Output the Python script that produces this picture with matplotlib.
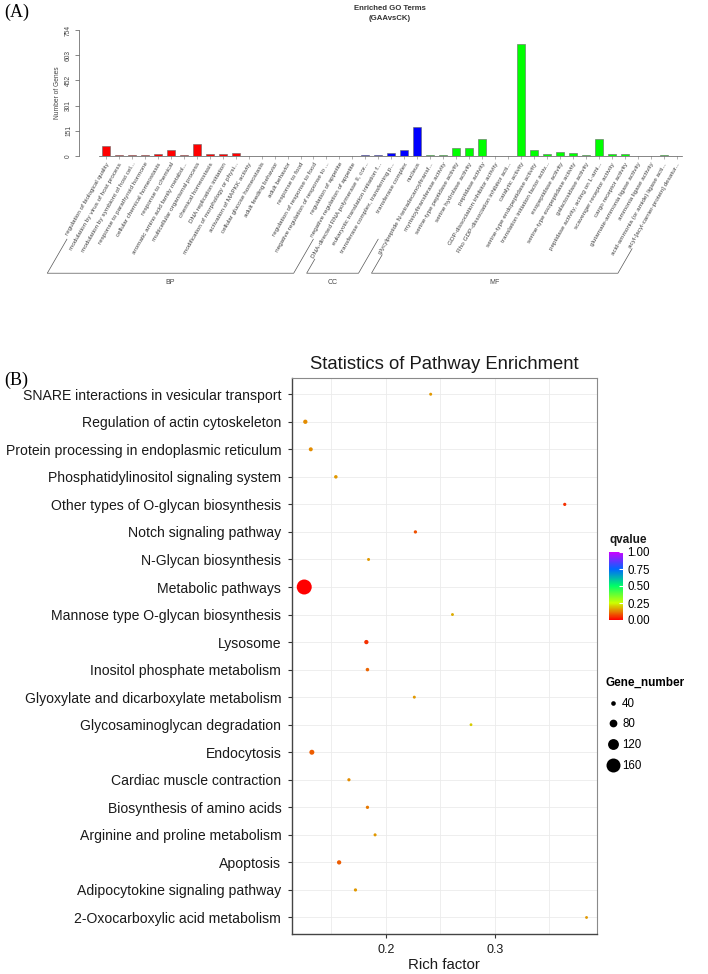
import matplotlib
matplotlib.use("Agg")
import matplotlib.pyplot as plt
import numpy as np
from matplotlib.colors import LinearSegmentedColormap
from matplotlib.lines import Line2D
from matplotlib.transforms import IdentityTransform

plt.rcParams['font.family'] = ['Liberation Sans', 'DejaVu Sans']

# ---------------- panel A: enriched GO terms ----------------
bp_terms = ['regulation of biological quality', 'modulation by virus of host process',
            'modulation by symbiont of host cel...', 'response to parathyroid hormone',
            'cellular chemical homeostasis', 'response to chemical',
            'aromatic amino acid family metabol...', 'multicellular organismal process',
            'chemical homeostasis', 'DNA replication initiation',
            'modification of morphology or physi...', 'activation of MAPKK activity',
            'cellular glucose homeostasis', 'adult feeding behavior', 'adult behavior',
            'response to food', 'regulation of response to food',
            'negative regulation of response to ...', 'regulation of appetite',
            'negative regulation of appetite']
bp_genes = [62, 5, 5, 3, 13, 33, 4, 72, 12, 12, 17, 2, 2, 2, 2, 2, 2, 2, 2, 2]

cc_terms = ['DNA-directed RNA polymerase II, cor...', 'eukaryotic translation initiation f...',
            'transferase complex, transferring p...', 'transferase complex', 'nucleus']
cc_genes = [5, 8, 18, 36, 176]

mf_terms = ['glycylpeptide N-tetradecanoyltransf...', 'myristoyltransferase activity',
            'serine-type peptidase activity', 'serine hydrolase activity', 'peptidase activity',
            'GDP-dissociation inhibitor activity', 'Rho GDP-dissociation inhibitor acti...',
            'catalytic activity', 'serine-type endopeptidase activity',
            'translation initiation factor activ...', 'exopeptidase activity',
            'serine-type exopeptidase activity', 'galactosidase activity',
            'peptidase activity, acting on L-ami...', 'scavenger receptor activity',
            'cargo receptor activity', 'glutamate-ammonia ligase activity',
            'ammonia ligase activity', 'acid-ammonia (or amide) ligase acti...',
            'acyl-[acyl-carrier-protein] desatur...']
mf_genes = [4, 4, 46, 46, 103, 2, 2, 668, 38, 14, 26, 16, 8, 100, 14, 14, 2, 2, 3, 1]

go_yticks = [0, 151, 301, 452, 603, 754]

# ---------------- panel B: KEGG pathway enrichment ----------------
pathways = ['SNARE interactions in vesicular transport', 'Regulation of actin cytoskeleton',
            'Protein processing in endoplasmic reticulum', 'Phosphatidylinositol signaling system',
            'Other types of O-glycan biosynthesis', 'Notch signaling pathway',
            'N-Glycan biosynthesis', 'Metabolic pathways', 'Mannose type O-glycan biosynthesis',
            'Lysosome', 'Inositol phosphate metabolism', 'Glyoxylate and dicarboxylate metabolism',
            'Glycosaminoglycan degradation', 'Endocytosis', 'Cardiac muscle contraction',
            'Biosynthesis of amino acids', 'Arginine and proline metabolism', 'Apoptosis',
            'Adipocytokine signaling pathway', '2-Oxocarboxylic acid metabolism']
rich_factor = [0.241, 0.126, 0.131, 0.154, 0.364, 0.227, 0.184, 0.125, 0.261, 0.182,
               0.183, 0.226, 0.278, 0.132, 0.166, 0.183, 0.190, 0.157, 0.172, 0.384]
gene_number = [19, 36, 32, 26, 22, 23, 19, 173, 18, 36, 26, 19, 17, 45, 22, 23, 20, 36, 22, 17]
qvalue = [0.15, 0.14, 0.14, 0.15, 0.05, 0.08, 0.15, 0.0, 0.17, 0.05,
          0.10, 0.15, 0.20, 0.09, 0.14, 0.12, 0.15, 0.09, 0.15, 0.15]
size_breaks = [40, 80, 120, 160]
q_ticks = [0, 0.25, 0.5, 0.75, 1.0]

W, H = 708, 974
fig = plt.figure(figsize=(W / 100, H / 100), dpi=100)

# ---- panel A ----
terms = bp_terms + cc_terms + mf_terms
genes = bp_genes + cc_genes + mf_genes
colors = ['#FF0000'] * len(bp_terms) + ['#0000FF'] * len(cc_terms) + ['#00FF00'] * len(mf_terms)
x = np.arange(len(terms))

axA = fig.add_axes([79 / W, 1 - 156 / H, 605 / W, 126 / H])
axA.bar(x, genes, width=0.62, color=colors, edgecolor='#666666', linewidth=0.4)
axA.set_xlim(-2.08, len(terms) - 0.43)
axA.set_ylim(0, go_yticks[-1])
for sp in ['top', 'right']:
    axA.spines[sp].set_visible(False)
axA.spines['left'].set_bounds(0, go_yticks[-1])
axA.spines['bottom'].set_bounds(-0.5, len(terms) - 0.6)
for sp in ['left', 'bottom']:
    axA.spines[sp].set_color('#555555')
    axA.spines[sp].set_linewidth(0.5)
axA.set_yticks(go_yticks)
axA.set_yticklabels([str(v) for v in go_yticks], rotation=90, va='center', fontsize=4.8, color='#444444')
axA.tick_params(axis='y', length=3, width=0.5, color='#555555', pad=2)
axA.set_xticks(x)
axA.set_xticklabels(terms, rotation=60, ha='right', rotation_mode='anchor', fontsize=4.6, color='#444444')
axA.tick_params(axis='x', length=2, width=0.4, color='#777777', pad=2)
axA.set_ylabel('Number of Genes', fontsize=4.8, color='#444444', labelpad=3)
fig.text(390 / W, 1 - 9 / H, 'Enriched GO Terms', ha='center', va='center', fontsize=5.6, fontweight='bold', color='#333333')
fig.text(390 / W, 1 - 19 / H, '(GAAvsCK)', ha='center', va='center', fontsize=5.6, fontweight='bold', color='#333333')

# brackets under the rotated labels, one per ontology
fig.canvas.draw()
rend = fig.canvas.get_renderer()
s60, c60, t60 = np.sin(np.radians(60)), np.cos(np.radians(60)), np.tan(np.radians(60))
starts = []
for lab in axA.get_xticklabels():
    bb = lab.get_window_extent(rend)
    hgt = (s60 * bb.width - c60 * bb.height) / (s60 ** 2 - c60 ** 2)
    starts.append((bb.x0 + hgt * s60, bb.y0))
y_line = min(p[1] for p in starts) - 14
idx = 0
for name, grp in [('BP', bp_terms), ('CC', cc_terms), ('MF', mf_terms)]:
    first, last = starts[idx], starts[idx + len(grp) - 1]
    idx += len(grp)
    pts = []
    for (sx, sy) in (first, last):
        bx = sx - (sy - y_line) / t60
        ty = min(sy, y_line + 34)
        pts.append((bx, bx + (ty - y_line) / t60, ty))
    xs = [pts[0][1], pts[0][0], pts[1][0], pts[1][1]]
    ys = [pts[0][2], y_line, y_line, pts[1][2]]
    fig.add_artist(Line2D(xs, ys, transform=IdentityTransform(), color='#555555', linewidth=0.5))
    fig.text((pts[0][0] + pts[1][0]) / 2 / W, (y_line - 9) / H, name, ha='center', va='center',
             fontsize=5, color='#444444')

# ---- panel B ----
cmap = LinearSegmentedColormap.from_list('qv', ['#FF0000', '#CCFF00', '#00FF66', '#0066FF', '#CC00FF'])


def dot_diam(n):
    # marker diameter in points
    return (1.5 + 0.078 * np.asarray(n, dtype=float)) * 0.72


ypos = np.arange(len(pathways))[::-1] + 1
axB = fig.add_axes([291.7 / W, 1 - 934 / H, 305.3 / W, 556.3 / H])
sc = axB.scatter(rich_factor, ypos, s=dot_diam(gene_number) ** 2, c=qvalue, cmap=cmap,
                 vmin=0, vmax=1, linewidths=0, zorder=3)
axB.set_xlim(0.1135, 0.3936)
axB.set_ylim(0.4, len(pathways) + 0.6)
axB.set_yticks(ypos)
axB.set_yticklabels(pathways, fontsize=10.1, color='#1a1a1a')
axB.set_xticks([0.2, 0.3])
axB.set_xticklabels(['0.2', '0.3'], fontsize=9, color='#1a1a1a')
axB.set_xticks([0.15, 0.25, 0.35], minor=True)
axB.tick_params(which='minor', length=0)
axB.tick_params(which='major', length=3, width=0.8, color='#333333')
axB.tick_params(axis='y', pad=4.5)
axB.tick_params(axis='x', pad=4.5)
axB.grid(True, which='both', color='#EBEBEB', linewidth=0.6)
axB.set_axisbelow(True)
for sp in ['top', 'right']:
    axB.spines[sp].set_color('#8a8a8a')
    axB.spines[sp].set_linewidth(0.8)
for sp in ['left', 'bottom']:
    axB.spines[sp].set_color('#444444')
    axB.spines[sp].set_linewidth(1.0)
axB.set_title('Statistics of Pathway Enrichment', fontsize=13.3, pad=6, color='#1a1a1a')
axB.set_xlabel('Rich factor', fontsize=10.8, labelpad=1, color='#1a1a1a')

# colour bar for qvalue
cax = fig.add_axes([609 / W, 1 - 620 / H, 14 / W, 68 / H])
cb = fig.colorbar(sc, cax=cax, ticks=q_ticks, format='%.2f')
cb.outline.set_visible(False)
cax.tick_params(length=3, width=0.8, color='white', direction='in', labelsize=8.3, pad=3)
fig.text(609 / W, 1 - 540 / H, 'qvalue', fontsize=8.5, fontweight='bold', va='center', color='#1a1a1a')

# size legend for gene number
handles = [Line2D([], [], marker='o', linestyle='', color='black', markeredgewidth=0,
                  markersize=dot_diam(v)) for v in size_breaks]
fig.legend(handles, [str(v) for v in size_breaks], title='Gene_number', loc='upper left',
           bbox_to_anchor=(606 / W, 1 - 677 / H), frameon=False, fontsize=8.3,
           title_fontproperties={'weight': 'bold', 'size': 8.5}, alignment='left',
           handletextpad=0.2, labelspacing=0.75, borderaxespad=0, borderpad=0, handlelength=1.2)

fig.text(4 / W, 1 - 4 / H, '(A)', fontsize=13, family=['Liberation Serif', 'DejaVu Serif'], va='top')
fig.text(4 / W, 1 - 372 / H, '(B)', fontsize=13, family=['Liberation Serif', 'DejaVu Serif'], va='top')

fig.savefig('out.png', dpi=100)
